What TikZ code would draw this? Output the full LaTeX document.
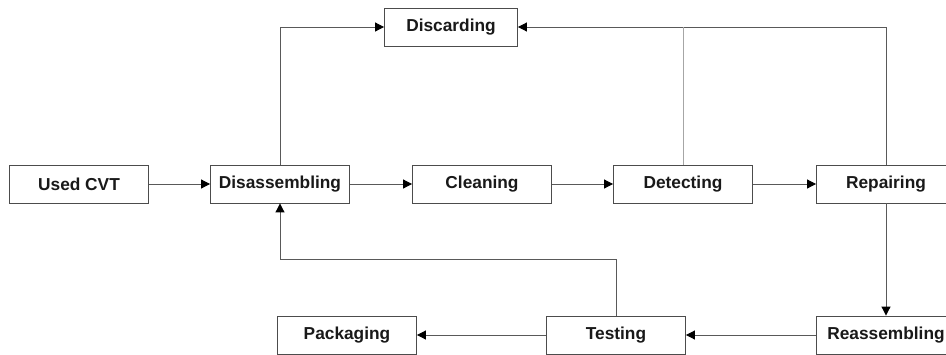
\documentclass[tikz,border=0pt]{standalone}
\usepackage{fontspec}
\setmainfont{Liberation Sans}
\usetikzlibrary{arrows.meta}

\begin{document}
\begin{tikzpicture}[x=1pt,y=-1pt,
  stage/.style={draw=black!70, line width=0.9pt, fill=white, minimum width=139pt, minimum height=38pt,
    inner sep=0pt, text=black!90, font=\fontsize{17.3}{20}\selectfont\bfseries},
  flow/.style={draw=black!65, line width=1pt, -{Triangle[length=9pt,width=9pt,color=black]}}]
\useasboundingbox (0,0) rectangle (946,354);

% main line
\node[stage] (used) at (79,184) {Used CVT};
\node[stage] (dis) at (280,184) {Disassembling};
\node[stage] (clean) at (482,184) {Cleaning};
\node[stage] (detect) at (683,184) {Detecting};
\node[stage] (repair) at (886,184) {Repairing};
\node[stage, minimum width=133pt] (disc) at (451,27) {Discarding};
% bottom line
\node[stage] (pack) at (347,335) {Packaging};
\node[stage] (test) at (616,335) {Testing};
\node[stage] (reas) at (886,335) {Reassembling};
\coordinate (back) at (616,259);

\draw[flow] (used) -- (dis);
\draw[flow] (dis) -- (clean);
\draw[flow] (clean) -- (detect);
\draw[flow] (detect) -- (repair);
\draw[flow] (dis.north) |- (disc.west);
\draw[flow] (repair.north) |- (disc.east);
\draw[black!35, line width=1pt] (detect.north) -- (detect.north |- disc.east);
\draw[flow] (repair) -- (reas);
\draw[flow] (reas) -- (test);
\draw[flow] (test) -- (pack);
\draw[flow] (test.north) -- (back) -| (dis.south);
\end{tikzpicture}
\end{document}
